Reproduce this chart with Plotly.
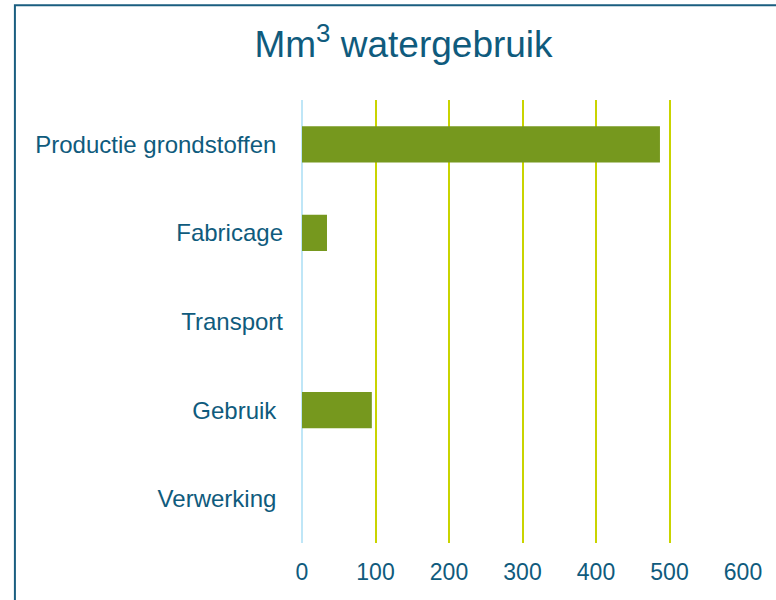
import plotly.graph_objects as go

categories = ["Productie grondstoffen ", "Fabricage", "Transport", "Gebruik ", "Verwerking "]
values = [487, 34, 0, 95, 0]
tick_vals = [0, 100, 200, 300, 400, 500, 600]

TEXT = "#0f5b7d"
BAR = "#76981e"
GRID = "#c9d400"

fig = go.Figure()
fig.add_trace(go.Bar(
    x=values,
    y=[c.replace(" ", "\u00a0") for c in categories],
    orientation="h",
    marker=dict(color=BAR, line=dict(width=0)),
    hoverinfo="x+y",
))

# kader rond de grafiek
fig.add_shape(
    type="rect", xref="paper", yref="paper",
    x0=-0.651, x1=1.3, y0=-0.3, y1=1.214,
    line=dict(color="#1a5e80", width=2),
)

fig.update_layout(
    width=776, height=600,
    title=dict(
        text="Mm<sup>3</sup> watergebruik",
        x=0.52, xanchor="center", y=0.926, yanchor="middle",
        font=dict(size=37, color=TEXT),
    ),
    font=dict(family="Liberation Sans, Arial, sans-serif", color=TEXT, size=24),
    plot_bgcolor="white",
    paper_bgcolor="white",
    bargap=0.59,
    showlegend=False,
    margin=dict(l=302, r=33, t=100, b=57),
    xaxis=dict(
        range=[0, 600],
        tickvals=tick_vals,
        showgrid=True, gridcolor=GRID, gridwidth=2,
        zeroline=True, zerolinecolor="#bfe6f7", zerolinewidth=2,
        showline=False,
        ticklabelstandoff=13,
        tickfont=dict(size=23, color=TEXT),
        fixedrange=True,
    ),
    yaxis=dict(
        autorange="reversed",
        showgrid=False,
        showline=False,
        ticklabelstandoff=18,
        tickfont=dict(size=24, color=TEXT),
        fixedrange=True,
    ),
)

fig.write_html(
    "out.html",
    config={"displayModeBar": False},
    post_script="document.body.style.margin='0';document.body.style.overflow='hidden';",
)
